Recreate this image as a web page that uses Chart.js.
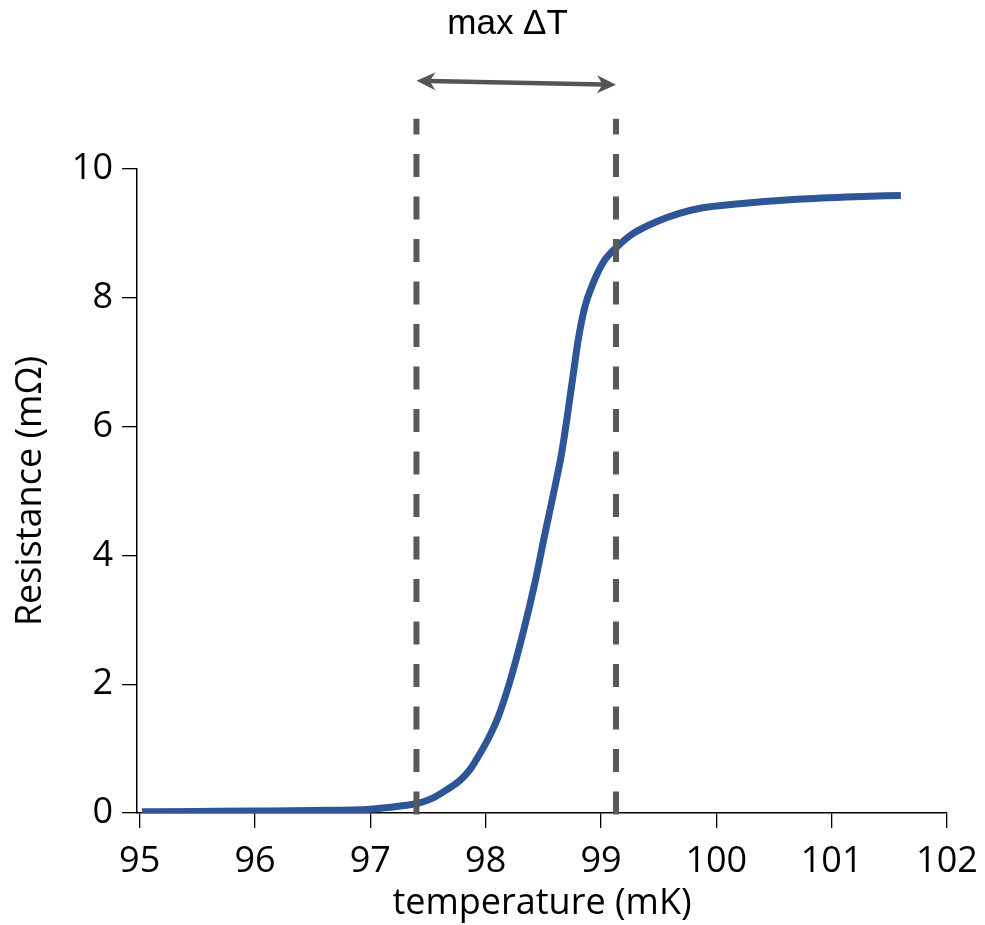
<!DOCTYPE html>
<html>
<head>
<meta charset="utf-8">
<script src="https://cdn.jsdelivr.net/npm/chart.js@4.4.1/dist/chart.umd.min.js"></script>
<style>
  html, body { margin: 0; padding: 0; background: #fff; }
</style>
</head>
<body>
<canvas id="rt" width="985" height="925"></canvas>
<script>
// temperature (mK) / resistance (mOhm)
const temps  = [95.02, 95.5, 96.0, 96.5, 97.0, 97.26, 97.41, 97.55, 97.66, 97.78, 97.87, 97.95, 98.03, 98.11, 98.21, 98.33, 98.43, 98.51, 98.60, 98.66, 98.715, 98.76, 98.80, 98.86, 98.93, 99.03, 99.15, 99.28, 99.48, 99.68, 99.86, 100.2, 100.7, 101.2, 101.6];
const resist = [0.02, 0.025, 0.03, 0.038, 0.06, 0.11, 0.15, 0.24, 0.36, 0.51, 0.69, 0.92, 1.18, 1.5, 2.04, 2.84, 3.6, 4.3, 5.06, 5.6, 6.25, 6.82, 7.32, 7.86, 8.22, 8.58, 8.81, 9.0, 9.18, 9.31, 9.39, 9.46, 9.53, 9.57, 9.59];
const xTicks = [95, 96, 97, 98, 99, 100, 101, 102];
const yTicks = [0, 2, 4, 6, 8, 10];

// dashed markers, the arrow between them and its label
const markerTemps = [97.40, 99.13];
const markerTop = 10.78;
const arrowR = [11.37, 11.31];
const labelText = 'max ΔT';
const labelPos = [98.19, 12.09];

function arrowHead(ctx, tx, ty, ang) {
    // ang = direction the head points to
    const L = 19, W = 9;
    const dx = Math.cos(ang), dy = Math.sin(ang);
    ctx.beginPath();
    ctx.moveTo(tx, ty);
    ctx.lineTo(tx - L * dx - W * dy, ty - L * dy + W * dx);
    ctx.lineTo(tx - 0.7 * L * dx, ty - 0.7 * L * dy);
    ctx.lineTo(tx - L * dx + W * dy, ty - L * dy - W * dx);
    ctx.closePath();
    ctx.fill();
}

const markers = {
    id: 'markers',
    afterDatasetsDraw(chart) {
        const ctx = chart.ctx, x = chart.scales.x, y = chart.scales.y;
        ctx.save();
        ctx.strokeStyle = '#595959';
        ctx.lineWidth = 6;
        ctx.setLineDash([23, 19.5]);
        markerTemps.forEach(function(t) {
            const px = x.getPixelForValue(t);
            ctx.beginPath();
            ctx.moveTo(px, y.getPixelForValue(0) + 1.5);
            ctx.lineTo(px, y.getPixelForValue(markerTop));
            ctx.stroke();
        });
        ctx.setLineDash([]);

        const x1 = x.getPixelForValue(markerTemps[0]), y1 = y.getPixelForValue(arrowR[0]);
        const x2 = x.getPixelForValue(markerTemps[1]), y2 = y.getPixelForValue(arrowR[1]);
        const ang = Math.atan2(y2 - y1, x2 - x1);
        ctx.strokeStyle = '#555';
        ctx.fillStyle = '#555';
        ctx.lineWidth = 4.5;
        ctx.beginPath();
        ctx.moveTo(x1 + 12 * Math.cos(ang), y1 + 12 * Math.sin(ang));
        ctx.lineTo(x2 - 12 * Math.cos(ang), y2 - 12 * Math.sin(ang));
        ctx.stroke();
        arrowHead(ctx, x2, y2, ang);
        arrowHead(ctx, x1, y1, ang + Math.PI);

        ctx.fillStyle = '#000';
        ctx.font = '35px "Liberation Sans", Arial, sans-serif';
        ctx.textAlign = 'center';
        ctx.textBaseline = 'alphabetic';
        ctx.fillText(labelText, x.getPixelForValue(labelPos[0]), y.getPixelForValue(labelPos[1]));
        ctx.restore();
    }
};

const axisFont = { family: '"Open Sans", "Noto Sans", sans-serif', size: 36 };
const titleFont = { family: '"Open Sans", "Noto Sans", sans-serif', size: 36 };

new Chart(document.getElementById('rt'), {
    type: 'line',
    data: {
        datasets: [{
            data: temps.map(function(t, i) { return { x: t, y: resist[i] }; }),
            borderColor: '#2e5598',
            borderWidth: 7,
            pointRadius: 0,
            fill: false,
            cubicInterpolationMode: 'monotone',
            borderCapStyle: 'butt',
            borderJoinStyle: 'round'
        }]
    },
    options: {
        responsive: false,
        animation: false,
        devicePixelRatio: 1,
        layout: { padding: { top: 169, right: 38, bottom: 0, left: 0 } },
        plugins: { legend: { display: false }, tooltip: { enabled: false } },
        scales: {
            x: {
                type: 'linear',
                min: 94.977,
                max: 102,
                afterBuildTicks: function(s) { s.ticks = xTicks.map(function(v) { return { value: v }; }); },
                afterFit: function(s) { s.height = 112; s.paddingLeft = 0; s.paddingRight = 0; },
                grid: { drawOnChartArea: false, tickLength: 15, color: '#000', lineWidth: 1.3 },
                border: { color: '#000', width: 1.5 },
                ticks: { color: '#000', font: axisFont, padding: 12, maxRotation: 0, autoSkip: false },
                title: { display: true, text: 'temperature (mK)', color: '#000', font: titleFont, padding: { top: 0, bottom: 0 } }
            },
            y: {
                min: 0,
                max: 10,
                afterBuildTicks: function(s) { s.ticks = yTicks.map(function(v) { return { value: v }; }); },
                afterFit: function(s) { s.width = 137; },
                grid: { drawOnChartArea: false, tickLength: 15, color: '#000', lineWidth: 1.3 },
                border: { color: '#000', width: 1.5 },
                ticks: { color: '#000', font: axisFont, padding: 9 },
                title: { display: true, text: 'Resistance (mΩ)', color: '#000', font: titleFont, padding: { top: 9, bottom: 0 } }
            }
        }
    },
    plugins: [markers]
});
</script>
</body>
</html>
